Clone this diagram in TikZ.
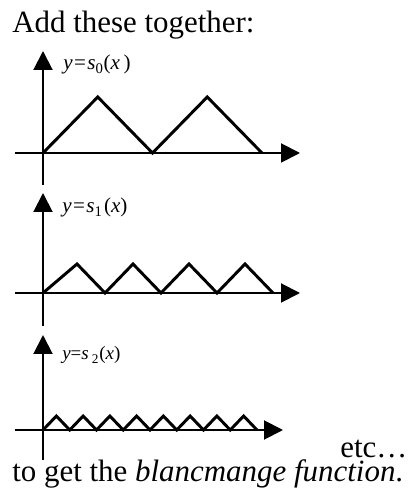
\documentclass[tikz,border=0pt]{standalone}
\usepackage{fontspec}
\setmainfont{Liberation Serif}
\usetikzlibrary{arrows.meta}

\begin{document}
\begin{tikzpicture}[x=0.025cm, y=0.025cm,
    axis/.style={line width=1.4pt, -{Triangle[length=13.5pt, width=13.5pt]}},
    wave/.style={line width=2.1pt, line join=miter},
    bigtext/.style={anchor=base west, inner sep=0pt, font=\fontsize{22}{26}\selectfont},
    fnlabel/.style={anchor=base west, inner sep=0pt, font=\fontsize{15}{17}\selectfont}]
  \useasboundingbox (0, 0) rectangle (407, 498);

  % Heading
  \node[bigtext] (head) at (12, 465) {Add these together:};

  % Panel 1: s_0, two teeth (period 109.5)
  \draw[axis] (43, 313) -- (43, 447);
  \draw[axis] (15, 345) -- (300, 345);
  \draw[wave] (43, 345) \foreach \k in {1,...,2} { -- ++(54.75, 56) -- ++(54.75, -56) };
  \node[fnlabel] (lblA) at (63, 428) {\textit{y}\kern1pt=\kern1pt\textit{s}\textsubscript{0}(\textit{x}\,)};

  % Panel 2: s_1, four teeth
  \draw[axis] (43, 172) -- (43, 305);
  \draw[axis] (15, 205) -- (300, 205);
  \draw[wave] (43, 205) -- (77, 234) -- (105, 205) -- (133, 234) -- (161, 205)
    -- (189, 234) -- (217, 205) -- (245, 234) -- (273, 205);
  \node[fnlabel] (lblB) at (62, 285) {\textit{y}\kern1pt=\kern1pt\textit{s}\textsubscript{1}\kern1pt(\textit{x})};

  % Panel 3: s_2, eight teeth (period 26.75)
  \draw[axis] (43, 38) -- (43, 163);
  \draw[axis] (15, 68) -- (283, 68);
  \draw[wave] (43, 68) \foreach \k in {1,...,8} { -- ++(13.375, 14) -- ++(13.375, -14) };
  \node[fnlabel, font=\fontsize{13.5}{15}\selectfont] (lblC) at (62, 138) {\textit{y}=\textit{s}\,\textsubscript{2}(\textit{x})};

  % Closing text
  \node[bigtext] (etc) at (340, 40) {etc\ldots};
  \node[bigtext] (tail) at (12, 17) {to get the \textit{blancmange function}.};
\end{tikzpicture}
\end{document}
